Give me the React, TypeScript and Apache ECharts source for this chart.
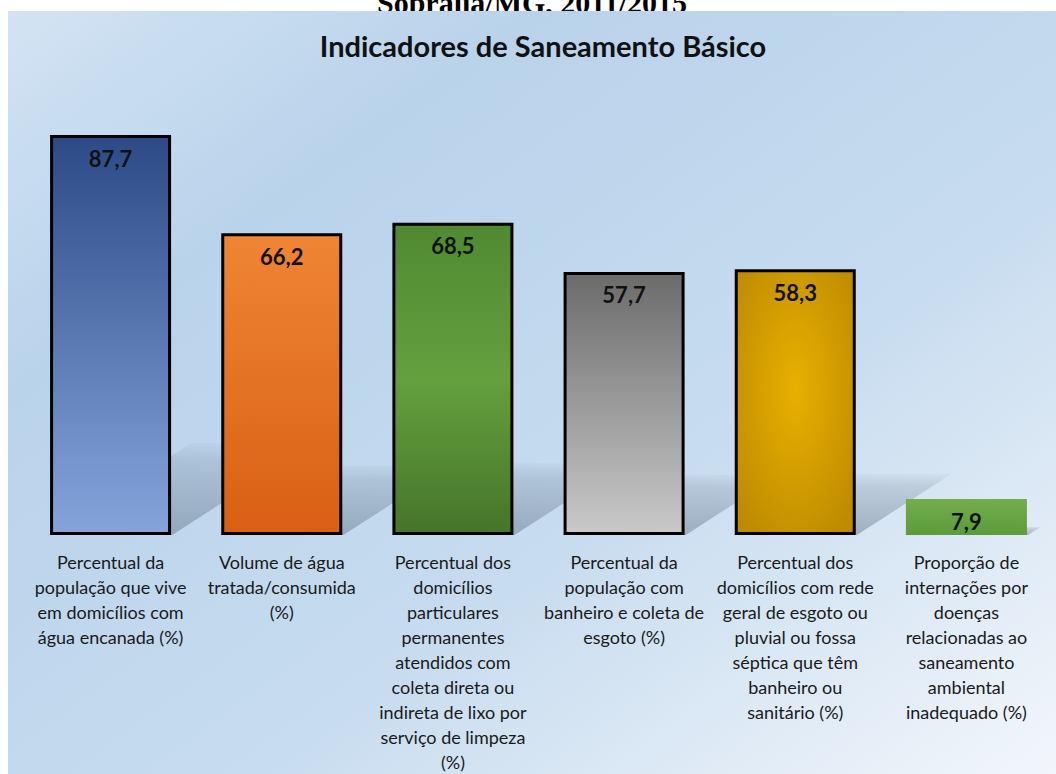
import React, { useEffect, useRef } from "react";
import * as echarts from "echarts";

const categories = [
  "Percentual da\npopulação que vive\nem domicílios com\nágua encanada (%)",
  "Volume de água\ntratada/consumida\n(%)",
  "Percentual dos\ndomicílios\nparticulares\npermanentes\natendidos com\ncoleta direta ou\nindireta de lixo por\nserviço de limpeza\n(%)",
  "Percentual da\npopulação com\nbanheiro e coleta de\nesgoto (%)",
  "Percentual dos\ndomicílios com rede\ngeral de esgoto ou\npluvial ou fossa\nséptica que têm\nbanheiro ou\nsanitário (%)",
  "Proporção de\ninternações por\ndoenças\nrelacionadas ao\nsaneamento\nambiental\ninadequado (%)",
];
const values = [87.7, 66.2, 68.5, 57.7, 58.3, 7.9];
const chartTitle = "Indicadores de Saneamento Básico";
const cutTitle = "Sobrália/MG, 2011/2015";

const lg = (top: string, bottom: string) =>
  new echarts.graphic.LinearGradient(0, 0, 0, 1, [
    { offset: 0, color: top },
    { offset: 1, color: bottom },
  ]);

const barStyles = [
  { color: lg("#2c4a86", "#86a4dc"), borderColor: "#000", borderWidth: 3 },
  { color: lg("#ef8535", "#d95f15"), borderColor: "#000", borderWidth: 3 },
  {
    color: new echarts.graphic.LinearGradient(0, 0, 0, 1, [
      { offset: 0, color: "#4f8a33" },
      { offset: 0.5, color: "#64a03e" },
      { offset: 1, color: "#46752a" },
    ]),
    borderColor: "#000",
    borderWidth: 3,
  },
  { color: lg("#6b6b6b", "#c9c9c9"), borderColor: "#000", borderWidth: 3 },
  {
    color: new echarts.graphic.RadialGradient(0.5, 0.45, 0.75, [
      { offset: 0, color: "#e8b000" },
      { offset: 1, color: "#b88600" },
    ]),
    borderColor: "#000",
    borderWidth: 3,
  },
  { color: lg("#72ae4e", "#5c9a3a"), borderWidth: 0 },
];

export default function App() {
  const ref = useRef<HTMLDivElement>(null);
  useEffect(() => {
    document.body.style.margin = "0";
    const chart = echarts.init(ref.current!, null, { renderer: "svg" });
    chart.setOption({
      animation: false,
      backgroundColor: "#ffffff",
      title: {
        text: chartTitle,
        left: 538,
        top: 26,
        textAlign: "center",
        textStyle: {
          fontFamily: "Lato",
          fontWeight: "bold",
          fontSize: 29,
          color: "#111111",
        },
      },
      graphic: [
        {
          type: "text",
          z: -200,
          x: 532,
          y: 17,
          style: {
            text: cutTitle,
            font: "bold 30px 'Liberation Serif'",
            fill: "#000",
            align: "center",
            verticalAlign: "bottom",
          },
        },
        {
          type: "rect",
          z: -100,
          shape: { x: 8, y: 11, width: 1048, height: 763 },
          style: {
            fill: new echarts.graphic.LinearGradient(0, 0, 1, 1, [
              { offset: 0, color: "#d3e3f3" },
              { offset: 0.25, color: "#b9d3eb" },
              { offset: 0.6, color: "#c6dbef" },
              { offset: 1, color: "#f2f6fb" },
            ]),
          },
        },
      ],
      grid: { left: 25, right: 4, top: 79, bottom: 238 },
      xAxis: {
        type: "category",
        data: categories,
        axisLine: { show: false },
        axisTick: { show: false },
        axisLabel: {
          interval: 0,
          margin: 14,
          fontFamily: "Lato",
          fontSize: 18,
          lineHeight: 25,
          color: "#1a1a1a",
          align: "center",
        },
      },
      yAxis: {
        type: "value",
        min: 0,
        max: 100,
        show: false,
        splitLine: { show: false },
      },
      series: [
        {
          type: "custom",
          z: 1,
          silent: true,
          data: values.map((v, i) => [i, v]),
          renderItem: (params: any, api: any) => {
            const idx = api.value(0);
            const v = api.value(1);
            const base = api.coord([idx, 0]);
            const top = api.coord([idx, v * 0.23]);
            const h = base[1] - top[1];
            const half = api.size([1, 0])[0] * 0.36;
            const dx = h * 1.55;
            const x0 = base[0] - half;
            const x1 = base[0] + half;
            return {
              type: "polygon",
              shape: {
                points: [
                  [x0, base[1]],
                  [x1, base[1]],
                  [x1 + dx, base[1] - h],
                  [x0 + dx, base[1] - h],
                ],
              },
              style: {
                fill: new echarts.graphic.LinearGradient(0, 1, 0, 0, [
                  { offset: 0, color: "rgba(95,110,128,0.45)" },
                  { offset: 0.8, color: "rgba(95,110,128,0.2)" },
                  { offset: 1, color: "rgba(95,110,128,0.04)" },
                ]),
              },
            };
          },
        },
        {
          type: "bar",
          z: 2,
          barWidth: 121,
          data: values.map((v, i) => ({ value: v, itemStyle: barStyles[i] })),
          label: {
            show: true,
            position: "insideTop",
            distance: 12,
            fontFamily: "Lato",
            fontWeight: "bold",
            fontSize: 22,
            color: "#111111",
            formatter: (p: any) => String(p.value).replace(".", ","),
          },
        },
      ],
    });
    return () => chart.dispose();
  }, []);
  return <div ref={ref} style={{ width: 1056, height: 774 }} />;
}
